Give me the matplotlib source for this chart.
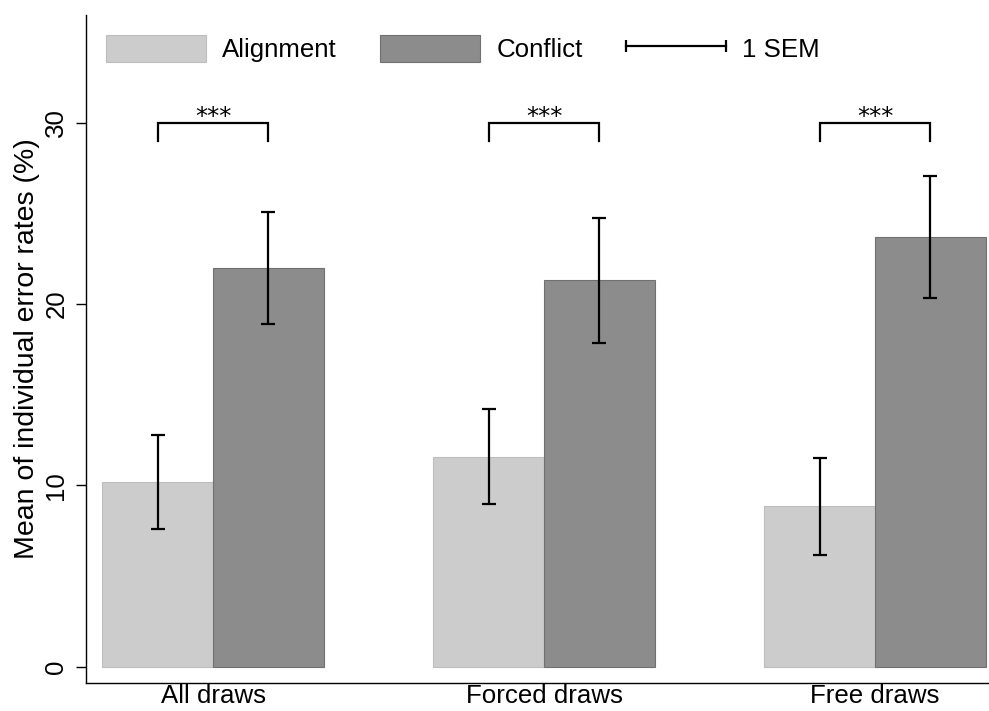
import matplotlib
matplotlib.use("Agg")
import matplotlib.pyplot as plt
import numpy as np
from matplotlib.patches import Patch
from matplotlib.lines import Line2D
from matplotlib.legend_handler import HandlerLine2D

plt.rcParams['font.family'] = ['Liberation Sans', 'DejaVu Sans']

categories = ["All draws", "Forced draws", "Free draws"]
alignment = [10.19, 11.59, 8.85]
alignment_sem = [2.60, 2.63, 2.68]
conflict = [22.0, 21.32, 23.70]
conflict_sem = [3.11, 3.45, 3.37]
sig_labels = ["***", "***", "***"]
yticks = [0, 10, 20, 30]

FS = 18.6
fig = plt.figure(figsize=(9.89, 7.11), dpi=100)
ax = fig.add_axes([86/989, 1-683/711, (988-86)/989, (683-15)/711])

x = np.arange(len(categories))
w = 0.3344
c_al = "#cccccc"
c_co = "#8c8c8c"
e_al = "#bdbdbd"
e_co = "#707070"
ax.bar(x - w/2, alignment, w, color=c_al, edgecolor=e_al, linewidth=0.8, zorder=2)
ax.bar(x + w/2, conflict, w, color=c_co, edgecolor=e_co, linewidth=0.8, zorder=2)
ax.errorbar(x - w/2, alignment, yerr=alignment_sem, fmt='none', ecolor='black',
            elinewidth=1.6, capsize=4.9, capthick=1.6, zorder=3)
ax.errorbar(x + w/2, conflict, yerr=conflict_sem, fmt='none', ecolor='black',
            elinewidth=1.6, capsize=4.9, capthick=1.6, zorder=3)

# significance brackets
for i, lab in enumerate(sig_labels):
    x0, x1 = x[i] - w/2, x[i] + w/2
    ax.plot([x0, x0, x1, x1], [29.0, 30.0, 30.0, 29.0], color='black', lw=1.6,
            solid_joinstyle='miter', zorder=3)
    ax.text(x[i], 29.92, lab, ha='center', va='baseline', fontsize=17.5,
            family='DejaVu Sans')

ax.set_xlim(-0.3837, 2.341)
ax.set_ylim(-0.9, 35.95)
ax.set_xticks(x)
ax.set_xticklabels(categories, fontsize=FS)
ax.tick_params(axis='x', length=0, pad=1)
ax.set_yticks(yticks)
ax.set_yticklabels([str(t) for t in yticks], fontsize=FS, rotation=90, va='center')
ax.tick_params(axis='y', length=7.2, width=1.0, pad=5.5)
ax.set_ylabel("Mean of individual error rates (%)", fontsize=20.5, labelpad=3)
for s in ['top', 'right']:
    ax.spines[s].set_visible(False)
for s in ['left', 'bottom']:
    ax.spines[s].set_linewidth(1.0)

sem_handle = Line2D([0, 1], [0, 0], color='black', lw=1.6, marker='|', markersize=8.6,
                    markeredgewidth=1.6)
handles = [Patch(facecolor=c_al, edgecolor=e_al, linewidth=0.8),
           Patch(facecolor=c_co, edgecolor=e_co, linewidth=0.8),
           sem_handle]
leg = ax.legend(handles, ["Alignment", "Conflict", "1 SEM"], ncol=3, loc='upper left',
                bbox_to_anchor=((106-86)/902, 1-(20/668)), frameon=False, fontsize=FS,
                handlelength=3.876, handleheight=1.233, handletextpad=0.62,
                columnspacing=1.67, numpoints=2, borderpad=0, borderaxespad=0,
                handler_map={sem_handle: HandlerLine2D(marker_pad=0, numpoints=2)})

fig.savefig("out.png", dpi=100)
